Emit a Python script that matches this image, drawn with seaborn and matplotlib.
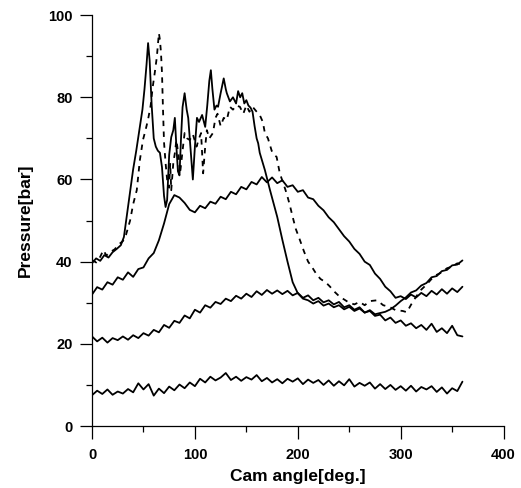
import numpy as np
import pandas as pd
import matplotlib
matplotlib.use("Agg")
import matplotlib.pyplot as plt
from matplotlib.ticker import MultipleLocator
import seaborn as sns

# ---- data ----
# curve A (solid, highest peak near 55 deg)
a_deg = [0, 4, 8, 12, 16, 20, 24, 28, 31, 34, 37, 40, 43, 46, 49, 51, 53, 54.5, 56, 58,
         60, 62, 64, 66, 68, 70, 71.5, 73, 75, 77, 79, 80.5, 82, 83.5, 85, 86.5, 88, 90, 92, 93.5,
         95, 96.5, 98, 100, 102, 104, 107, 110, 112, 114, 115.5, 117, 119, 121, 122.5, 125, 128, 130, 131, 134,
         137, 140, 142, 144, 146, 148, 150, 152, 154, 156, 158, 160, 161.5, 163, 168, 173, 180, 185, 190, 195,
         200, 205, 210, 215, 220, 225, 230, 235, 240, 245, 250, 255, 260, 265, 270, 275, 280, 285, 290, 295,
         300, 305, 310, 315, 320, 325, 330, 335, 340, 345, 350, 355, 360]
a_bar = [39.6, 40.8, 40.2, 41.6, 41.0, 42.3, 43.1, 44.0, 46.0, 51.5, 57.0, 62.5, 67.0, 72.0, 77.0, 82.0, 88.0, 93.2, 89.0, 78.0,
         70.0, 68.0, 67.0, 66.5, 63.0, 56.0, 53.3, 55.0, 66.0, 70.3, 72.0, 75.0, 68.0, 62.0, 61.0, 70.0, 77.6, 81.0, 77.0, 75.0,
         70.0, 65.0, 60.0, 68.0, 75.0, 74.0, 75.7, 72.8, 78.0, 84.0, 86.6, 82.0, 77.0, 78.0, 77.7, 81.0, 84.6, 82.0, 81.0, 79.0,
         80.0, 78.5, 81.5, 80.0, 81.0, 78.5, 79.3, 78.0, 77.5, 76.5, 73.0, 70.0, 68.8, 66.5, 62.3, 57.4, 50.9, 45.3, 40.0, 35.0,
         32.3, 31.0, 30.6, 29.8, 30.4, 29.3, 29.8, 28.9, 29.4, 28.4, 29.0, 28.0, 28.6, 27.6, 28.2, 27.2, 27.5, 27.8, 28.4, 29.3,
         30.4, 31.3, 32.5, 33.0, 34.2, 34.8, 36.2, 36.5, 37.7, 38.0, 39.1, 39.3, 40.3]

# curve B (dashed, peak near 65 deg)
b_deg = [0, 4, 8, 11, 14, 18, 22, 26, 30, 33, 37, 40, 43.5, 46.5, 49.5, 52, 54.4, 57, 59, 61,
         63, 64, 65, 66, 67, 68, 69, 70, 71.5, 73, 75, 76, 77, 79, 80.5, 82, 84, 85.6, 88, 90,
         92.5, 95, 98, 101.6, 104, 106, 108, 110, 111.6, 114, 117.5, 120, 122, 125, 128, 131, 134, 137, 140, 143.7,
         147, 150, 153, 156, 160, 163, 166, 168, 171, 174.6, 177, 179.4, 182.5, 186, 189, 192, 195, 198, 202, 206,
         210, 214, 218, 222, 227, 231, 236, 241, 245, 250, 255, 260, 265, 270, 277, 283, 289, 295, 302, 306,
         310, 315, 320, 325, 330, 335, 340, 345, 350, 355, 360]
b_bar = [40.4, 39.8, 41.2, 42.8, 41.5, 42.4, 43.0, 44.2, 45.0, 46.5, 50.0, 54.0, 57.4, 64.7, 69.6, 72.0, 74.5, 78.0, 82.5, 86.0,
         89.8, 92.7, 95.6, 94.0, 91.0, 86.0, 77.0, 69.0, 64.0, 60.0, 58.0, 64.0, 57.4, 64.0, 66.4, 69.6, 66.0, 61.5, 67.0, 71.3,
         70.0, 69.6, 71.0, 68.0, 70.0, 71.3, 61.5, 68.0, 72.0, 70.0, 71.3, 75.0, 76.0, 73.0, 75.0, 74.5, 77.7, 77.0, 78.0, 77.7,
         76.0, 78.0, 76.5, 77.7, 76.5, 75.7, 74.0, 71.3, 70.0, 67.0, 66.0, 65.5, 61.5, 59.0, 56.7, 54.0, 50.9, 48.0, 45.3, 42.5,
         40.0, 38.6, 37.0, 35.8, 35.0, 34.0, 32.6, 31.4, 30.8, 30.0, 29.6, 30.2, 29.4, 30.4, 30.6, 29.4, 29.0, 28.2, 28.0, 27.7,
         29.5, 31.5, 33.2, 34.4, 35.8, 36.8, 37.4, 38.4, 38.8, 39.6, 39.2]

# curves C, D, E sampled every 5 deg from 0 to 360
cde_deg = list(range(0, 361, 5))
c_bar = [32.0, 33.8, 33.2, 35.0, 34.4, 36.2, 35.6, 37.4, 36.3, 38.2, 38.6, 40.8, 42.1, 45.2, 49.3, 54.0, 56.2, 55.6, 54.3, 52.6,
         52.0, 53.6, 53.0, 54.6, 54.1, 55.8, 55.2, 57.0, 56.4, 58.2, 57.6, 59.4, 58.8, 60.6, 59.3, 60.5, 59.1, 59.8, 58.2, 58.6,
         57.0, 57.4, 55.6, 55.2, 53.6, 52.5, 50.8, 49.6, 47.9, 46.2, 44.9, 43.1, 41.9, 40.0, 39.2, 37.1, 35.8, 33.9, 32.8, 31.2,
         31.6, 30.9, 32.0, 31.3, 32.4, 31.6, 32.9, 32.0, 33.3, 32.2, 33.5, 32.6, 33.9]
d_bar = [21.8, 20.6, 21.5, 20.3, 21.4, 20.9, 21.8, 21.0, 22.1, 21.4, 22.6, 22.0, 23.4, 22.8, 24.6, 23.9, 25.6, 25.1, 26.9, 26.2,
         28.3, 27.6, 29.4, 28.8, 30.2, 29.7, 31.0, 30.4, 31.7, 31.0, 32.2, 31.4, 32.8, 31.9, 33.1, 32.2, 33.0, 32.1, 32.9, 31.8,
         32.4, 31.2, 31.8, 30.6, 31.2, 30.1, 30.6, 29.6, 30.2, 28.9, 29.4, 28.3, 28.9, 27.6, 28.0, 26.8, 27.1, 25.7, 26.4, 25.1,
         25.7, 24.4, 25.0, 23.8, 24.6, 23.4, 24.9, 22.9, 23.8, 22.6, 24.4, 22.1, 21.8]
e_bar = [7.5, 8.6, 7.8, 8.9, 7.6, 8.4, 7.9, 9.0, 8.2, 10.4, 8.9, 10.2, 7.4, 9.1, 8.0, 9.6, 8.7, 10.1, 9.2, 10.6,
         9.7, 11.5, 10.6, 12.0, 11.1, 11.8, 12.9, 11.2, 12.0, 11.0, 11.9, 11.3, 12.4, 10.9, 11.7, 10.6, 11.4, 10.4, 11.5, 10.8,
         11.6, 10.2, 11.3, 10.5, 11.2, 10.0, 11.1, 9.8, 10.9, 9.9, 11.4, 9.6, 10.5, 9.8, 10.6, 9.1, 10.2, 9.0, 10.0, 8.8,
         9.7, 8.6, 9.8, 8.4, 9.5, 8.9, 9.7, 8.3, 9.4, 7.9, 9.2, 8.5, 10.8]

x_ticks = [0, 100, 200, 300, 400]
y_ticks = [0, 20, 40, 60, 80, 100]

# ---- figure ----
sns.set_theme(style="ticks")
plt.rcParams["font.family"] = ["Liberation Sans", "DejaVu Sans"]
plt.rcParams.update({"text.color": "black", "axes.labelcolor": "black",
                     "xtick.color": "black", "ytick.color": "black"})

fig = plt.figure(figsize=(5.21, 4.88), dpi=100)
ax = fig.add_axes([0.1766, 0.127, 0.790, 0.842])

solid = dict(color="black", linewidth=1.3, estimator=None, ax=ax, legend=False)
sns.lineplot(x=a_deg, y=a_bar, **solid)
sns.lineplot(x=cde_deg, y=c_bar, **solid)
sns.lineplot(x=cde_deg, y=d_bar, **solid)
sns.lineplot(x=cde_deg, y=e_bar, **solid)
sns.lineplot(x=b_deg, y=b_bar, color="black", linewidth=1.3, estimator=None, ax=ax, legend=False)
ax.lines[-1].set_dashes([3, 3])

ax.set_xlim(0, 400)
ax.set_ylim(0, 100)
ax.set_xticks(x_ticks)
ax.set_yticks(y_ticks)
ax.xaxis.set_minor_locator(MultipleLocator(50))
ax.yaxis.set_minor_locator(MultipleLocator(10))
ax.tick_params(axis="both", which="major", length=9, width=0.9, color="black",
               labelcolor="black", labelsize=10.5, pad=5)
ax.tick_params(axis="both", which="minor", length=4.5, width=0.9, color="black")
ax.tick_params(axis="x", which="major", pad=7)
for lab in ax.get_xticklabels() + ax.get_yticklabels():
    lab.set_fontweight("bold")

for s in ["top", "right"]:
    ax.spines[s].set_visible(False)
for s in ["left", "bottom"]:
    ax.spines[s].set_color("black")
    ax.spines[s].set_linewidth(0.9)

ax.set_xlabel("Cam angle[deg.]", fontsize=12.5, fontweight="bold", labelpad=5)
ax.set_ylabel("Pressure[bar]", fontsize=12.5, fontweight="bold", labelpad=11)
ax.set_facecolor("white")
fig.patch.set_facecolor("white")

fig.savefig("out.png", dpi=100)
